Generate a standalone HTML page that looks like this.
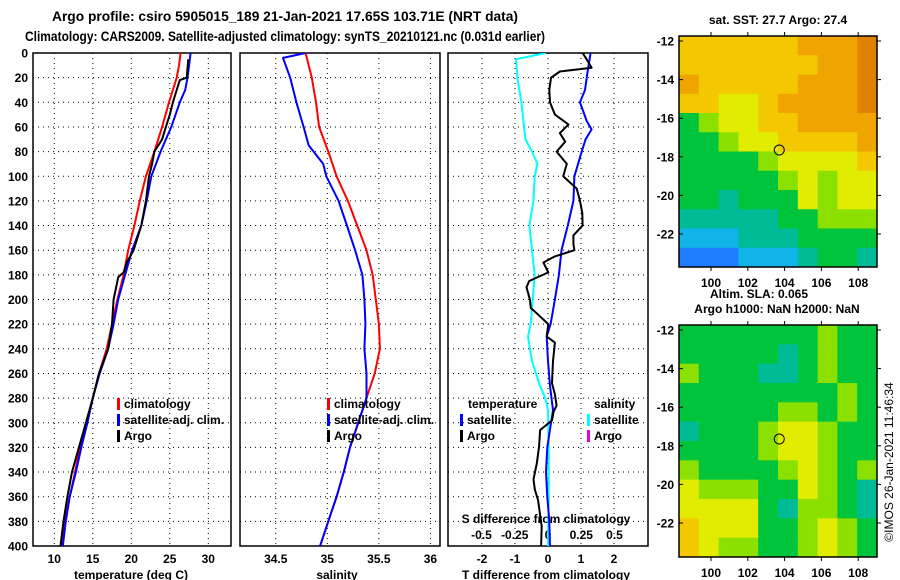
<!DOCTYPE html>
<html><head><meta charset="utf-8"><style>
html,body{margin:0;padding:0;background:#fff;width:900px;height:580px;overflow:hidden}
svg{display:block;font-family:"Liberation Sans",sans-serif;font-weight:bold}
</style></head><body>
<svg id="chart" width="900" height="580" viewBox="0 0 900 580" xmlns="http://www.w3.org/2000/svg">
<text x="52" y="21" font-size="14" textLength="466" lengthAdjust="spacingAndGlyphs">Argo profile: csiro 5905015_189 21-Jan-2021 17.65S 103.71E (NRT data)</text>
<text x="25" y="41" font-size="14" textLength="520" lengthAdjust="spacingAndGlyphs">Climatology: CARS2009. Satellite-adjusted climatology: synTS_20210121.nc (0.031d earlier)</text>
<text x="778" y="24" font-size="12" text-anchor="middle">sat. SST: 27.7 Argo: 27.4</text>
<text x="759" y="298" font-size="12" text-anchor="middle">Altim. SLA: 0.065</text>
<text x="777" y="313" font-size="12" text-anchor="middle">Argo h1000: NaN h2000: NaN</text>
<text transform="translate(893,462) rotate(-90)" font-size="12" font-weight="normal" text-anchor="middle">©IMOS 26-Jan-2021 11:46:34</text>
<text x="131" y="579" font-size="12" text-anchor="middle">temperature (deg C)</text>
<text x="337" y="579" font-size="12" text-anchor="middle">salinity</text>
<text x="546" y="579" font-size="12" text-anchor="middle">T difference from climatology</text>
<text x="546" y="523" font-size="12" text-anchor="middle">S difference from climatology</text>
</svg>
<script>
// ---- data ----
const depthTicks=[0,20,40,60,80,100,120,140,160,180,200,220,240,260,280,300,320,340,360,380,400];
const tempTicks=[10,15,20,25,30];
const salTicks=[34.5,35,35.5,36];
const tdiffTicks=[-2,-1,0,1,2];
const sdiffTicks=[-0.5,-0.25,0,0.25,0.5];
const sdiffLabels=["-0.5","-0.25","0","0.25","0.5"];
const tDepth=[0,10,20,30,40,60,80,100,120,140,160,180,200,220,240,260,280,300,320,340,360,380,400];
const tClim=[26.4,26.2,25.9,25.4,24.9,24.0,23.0,21.9,21.1,20.4,19.6,19.0,18.2,17.5,16.8,15.8,15.0,14.2,13.3,12.7,12.0,11.4,11.0];
const tSat=[27.7,27.5,27.3,27.0,26.3,25.2,23.8,22.6,22.0,21.3,20.1,19.2,18.3,17.7,17.0,15.9,15.0,14.3,13.5,12.8,12.0,11.5,11.1];
const argoDepth=[5,20,22,30,40,50,60,70,80,90,100,120,140,160,170,178,182,200,220,240,260,280,300,320,340,360,380,400];
const argoT=[27.4,27.2,26.3,25.9,25.4,25.0,24.5,24.0,23.0,22.7,22.3,21.9,21.3,20.3,19.4,19.0,18.3,17.7,17.5,17.0,15.8,15.0,14.1,13.2,12.3,11.7,11.2,10.8];
const sDepth=[0,20,40,60,80,100,120,140,160,180,200,220,240,260,280,300,320,340,360,380,400];
const sClim=[34.79,34.85,34.89,34.92,35.01,35.09,35.20,35.29,35.38,35.44,35.47,35.50,35.51,35.46,35.38,35.30,35.22,35.16,35.09,35.01,34.93];
const sSatDepth=[0,4,20,40,60,75,90,100,120,140,160,180,200,220,240,260,280,300,320,340,360,380,400];
const sSat=[34.79,34.57,34.64,34.70,34.77,34.82,34.96,34.99,35.11,35.19,35.27,35.34,35.36,35.37,35.36,35.38,35.38,35.30,35.22,35.16,35.09,35.01,34.93];
const dsDepth=[0,5,20,40,60,70,80,90,100,120,140,160,180,200,220,230,250,270,280,290,320,360,400];
const dsSat=[-0.015,-0.24,-0.23,-0.20,-0.18,-0.17,-0.12,-0.08,-0.10,-0.11,-0.14,-0.12,-0.10,-0.115,-0.13,-0.15,-0.12,-0.06,-0.02,0.0,0.005,0.005,0.0];
const dtSatDepth=[0,15,30,40,55,62,70,80,100,120,140,160,180,200,220,230,250,270,290,300,320,340,360,380,400];
const dtSat=[1.29,1.2,1.12,0.97,1.17,1.32,1.14,1.02,0.80,0.77,0.60,0.41,0.33,0.21,0.08,-0.04,0.0,0.06,0.15,0.09,-0.02,-0.06,-0.02,0.04,0.06];
const dtArgoDepth=[0,5,12,15,20,30,40,50,58,65,72,80,90,100,110,120,130,140,148,155,160,165,170,178,185,190,200,207,210,220,230,235,250,268,277,286,291,298,306,319,333,346,354,363,373,384,400];
const dtArgo=[1.05,1.17,1.32,0.36,0.09,0.04,0.06,0.21,0.62,0.36,0.52,0.26,0.57,0.46,0.87,0.97,1.04,1.05,0.77,0.77,0.80,0.21,-0.14,0.01,-0.57,-0.65,-0.55,-0.52,-0.39,0.01,-0.04,0.21,0.15,0.12,0.21,0.26,0.17,0.12,-0.24,-0.27,-0.34,-0.44,-0.40,-0.30,-0.25,-0.19,-0.21];
const lonTicks=[100,102,104,106,108];
const latTicks=[-12,-14,-16,-18,-20,-22];
const argoLon=103.71, argoLat=-17.65;
const sstGrid=[
[6,6,6,6,6,6,7,7,7,8],[6,6,6,6,6,6,6,7,7,8],[7,6,6,6,6,6,7,7,7,8],[6,6,5,5,6,7,7,7,7,8],
[3,4,5,5,6,6,7,7,7,7],[3,3,4,5,5,6,6,6,6,7],[3,3,3,3,4,5,5,5,5,6],[3,3,3,3,3,4,5,4,5,5],
[3,3,2,3,3,3,5,4,5,5],[2,2,2,2,2,3,3,4,4,4],[1,1,1,2,2,2,3,3,3,3],[0,0,0,1,1,1,2,3,3,2]];
const slaGrid=[
[3,3,3,3,3,3,3,4,3,3],[3,3,3,3,3,2,3,4,3,3],[4,3,3,3,2,2,3,4,3,3],[3,3,3,3,3,3,3,3,4,3],
[3,3,3,3,3,4,4,3,4,3],[2,3,3,3,4,5,5,4,3,3],[3,3,3,3,4,5,5,4,3,3],[4,3,3,3,3,4,5,4,3,4],
[5,4,4,4,3,3,5,4,3,2],[5,5,5,5,3,2,4,4,3,2],[6,5,5,5,3,3,4,5,4,3],[6,5,4,4,3,3,4,5,4,3]];
const palette=["#1e7cff","#10b4e8","#00bc96","#00c43c","#8ce000","#e2ec00","#f4c800","#f0a400","#e08200"];

// ---- scales ----
const NS="http://www.w3.org/2000/svg";
const svg=document.getElementById('chart');
const yD=d=>53+d*1.2325;
const xT=t=>54.3+(t-10)*7.7;
const xS=s=>327.3+(s-35)*103.1;
const xDT=v=>548+v*33;
const xDS=v=>548+v*133;
const lonX=l=>711+(l-100)*18.4;
const latY=(l,top)=>top+(-12-l)*19.3;
function mk(tag,attrs,parent){const e=document.createElementNS(NS,tag);for(const k in attrs)e.setAttribute(k,attrs[k]);(parent||svg).appendChild(e);return e;}

const panels=[{x0:33,x1:231,name:'temperature'},{x0:240,x1:440,name:'salinity'},{x0:448,x1:648,name:'difference'}];
const defs=mk('defs',{});
panels.forEach((p,i)=>{const cp=mk('clipPath',{id:'cp'+i},defs);mk('rect',{x:p.x0,y:53,width:p.x1-p.x0,height:493},cp);});

panels.forEach((p,i)=>{
  const g=mk('g',{});
  
  
  depthTicks.forEach(d=>{mk('line',{x1:p.x0,x2:p.x1,y1:yD(d),y2:yD(d),stroke:'#000','stroke-width':1,'stroke-dasharray':'1,4'},g);});
  const vt=i==0?tempTicks.map(xT):i==1?salTicks.map(xS):tdiffTicks.map(xDT);
  vt.forEach(x=>{mk('line',{x1:x,x2:x,y1:53,y2:546,stroke:'#000','stroke-width':1,'stroke-dasharray':'1,4'},g);});
  const f=mk('rect',{x:p.x0,y:53,width:p.x1-p.x0,height:493,fill:'none',stroke:'#000','stroke-width':1.5});
  
  
});
depthTicks.forEach(d=>{
  const t=mk('text',{x:28,y:yD(d)+4.5,'font-size':12,'text-anchor':'end'});t.textContent=d;
  
  
});
tempTicks.forEach(v=>{const t=mk('text',{x:xT(v),y:563,'font-size':12,'text-anchor':'middle'});t.textContent=v;
  
  });
salTicks.forEach(v=>{const t=mk('text',{x:xS(v),y:563,'font-size':12,'text-anchor':'middle'});t.textContent=v;
  
  });
tdiffTicks.forEach(v=>{const t=mk('text',{x:xDT(v),y:563,'font-size':12,'text-anchor':'middle'});t.textContent=v;
  
  });
sdiffTicks.forEach((v,i)=>{const t=mk('text',{x:xDS(v),y:539,'font-size':12,'text-anchor':'middle'});t.textContent=sdiffLabels[i];
  
  });

function line(xs,ds,fx,color,clip,name){
  const pts=xs.map((v,i)=>fx(v).toFixed(1)+','+yD(ds[i]).toFixed(1)).join(' ');
  const pl=mk('polyline',{points:pts,fill:'none',stroke:color,'stroke-width':2,'stroke-linejoin':'round','clip-path':'url(#cp'+clip+')'});
  
  
}
line(tClim,tDepth,xT,'#f00',0,'temperature-climatology-line');
line(tSat,tDepth,xT,'#00f',0,'temperature-satellite-line');
line(argoT,argoDepth,xT,'#000',0,'temperature-argo-line');
line(sClim,sDepth,xS,'#f00',1,'salinity-climatology-line');
line(sSat,sSatDepth,xS,'#00f',1,'salinity-satellite-line');
line(dsSat,dsDepth,xDS,'#0ff',2,'s-diff-satellite-line');
line(dtSat,dtSatDepth,xDT,'#00f',2,'t-diff-satellite-line');
line(dtArgo,dtArgoDepth,xDT,'#000',2,'t-diff-argo-line');

function leg(x,y,color,label){
  if(color){const m=mk('rect',{x:x,y:y-10,width:3,height:12,fill:color});
    
    }
  const t=mk('text',{x:color?x+7:x,y:y,'font-size':12});t.textContent=label;
  
  
}
leg(117,408,'#f00','climatology');leg(117,424,'#00f','satellite-adj. clim.');leg(117,440,'#000','Argo');
leg(327,408,'#f00','climatology');leg(327,424,'#00f','satellite-adj. clim.');leg(327,440,'#000','Argo');
leg(468,408,null,'temperature');leg(460,424,'#00f','satellite');leg(460,440,'#000','Argo');
leg(594,408,null,'salinity');leg(587,424,'#0ff','satellite');leg(587,440,'#e000e0','Argo');

function map(grid,top,bottom,name,labY){
  const x0=679,x1=877,rows=grid.length,cols=grid[0].length;
  const cw=(x1-x0)/cols,ch=(bottom-top)/rows;
  const g=mk('g',{});
  
  
  grid.forEach((row,r)=>row.forEach((v,c)=>{
    const cell=mk('rect',{x:x0+c*cw,y:top+r*ch,width:cw+0.5,height:ch+0.5,fill:palette[v]},g);
    
    
  }));
  mk('rect',{x:x0,y:top,width:x1-x0,height:bottom-top,fill:'none',stroke:'#000','stroke-width':1.5});
  const circ=mk('circle',{cx:lonX(argoLon),cy:latY(argoLat,top+5),r:5,fill:'none',stroke:'#000','stroke-width':1});
  
  
  lonTicks.forEach(l=>{
    const x=lonX(l);
    mk('line',{x1:x,x2:x,y1:top-4,y2:top,stroke:'#000'});
    mk('line',{x1:x,x2:x,y1:bottom,y2:bottom+4,stroke:'#000'});
    const t=mk('text',{x:x,y:labY,'font-size':12,'text-anchor':'middle'});t.textContent=l;
    
    
  });
  latTicks.forEach(l=>{
    const y=latY(l,top+5);
    mk('line',{x1:x0,x2:x0+4,y1:y,y2:y,stroke:'#000'});
    mk('line',{x1:x1,x2:x1+4,y1:y,y2:y,stroke:'#000'});
    const t=mk('text',{x:674,y:y+4.5,'font-size':12,'text-anchor':'end'});t.textContent=l;
    
    
  });
}
map(sstGrid,36,267,'sst-map',287);
map(slaGrid,325,557,'sla-map',577);
</script>
</body></html>
